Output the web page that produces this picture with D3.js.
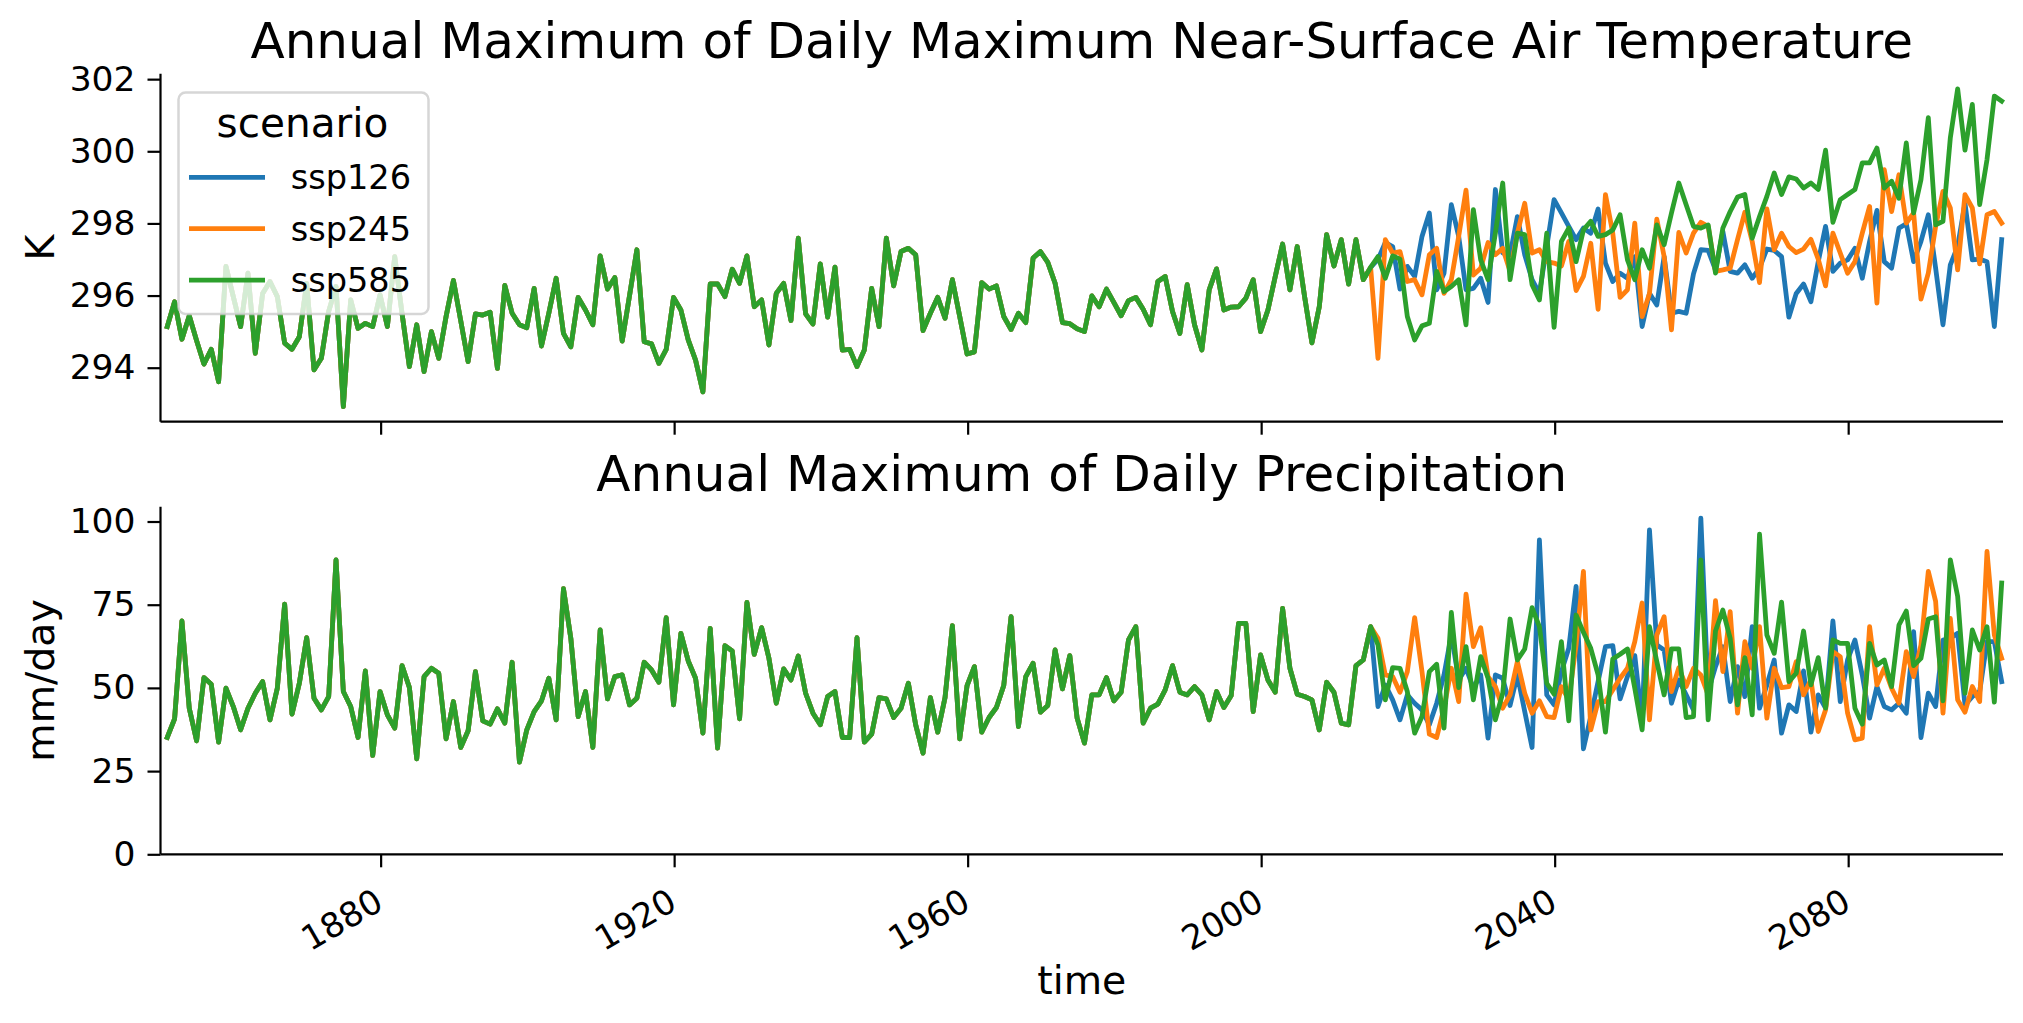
<!DOCTYPE html>
<html>
<head>
<meta charset="utf-8">
<script src="https://cdn.jsdelivr.net/npm/d3@7"></script>
<style>
  html, body { margin: 0; padding: 0; background: #ffffff; }
  svg { display: block; }
  text { font-family: "DejaVu Sans", sans-serif; fill: #000; }
</style>
</head>
<body>
<svg id="chart" width="2023" height="1023"></svg>
<script>
// ---------------- DATA ----------------
const scenarios = ["ssp126", "ssp245", "ssp585"];
const colors = ["#1f77b4", "#ff7f0e", "#2ca02c"];
const histStart = 1850;
const scenStart = 2015;
const xTickYears = [1880, 1920, 1960, 2000, 2040, 2080];
const tasTicks = [294, 296, 298, 300, 302];
const prTicks = [0, 25, 50, 75, 100];

// Annual max of daily max near-surface air temperature (K), historical 1850-2014
const histTas = [
  295.14, 295.83, 294.79, 295.44, 294.75, 294.10, 294.51, 293.61, 296.81, 295.97,
  295.14, 296.62, 294.40, 296.06, 296.39, 295.97, 294.68, 294.51, 294.86, 296.34,
  293.94, 294.26, 295.56, 296.25, 292.92, 295.88, 295.09, 295.23, 295.14, 296.02,
  295.14, 297.08, 295.50, 294.03, 295.19, 293.89, 295.00, 294.26, 295.42, 296.42,
  295.30, 294.17, 295.49, 295.46, 295.54, 293.98, 296.28, 295.51, 295.19, 295.11,
  296.20, 294.60, 295.51, 296.48, 294.95, 294.58, 295.95, 295.60, 295.19, 297.10,
  296.18, 296.50, 294.74, 296.00, 297.27, 294.72, 294.66, 294.12, 294.51, 295.95,
  295.60, 294.77, 294.21, 293.33, 296.32, 296.32, 295.97, 296.73, 296.34, 297.10,
  295.69, 295.88, 294.63, 296.06, 296.34, 295.31, 297.59, 295.49, 295.21, 296.88,
  295.40, 296.79, 294.49, 294.51, 294.03, 294.49, 296.20, 295.14, 297.59, 296.27,
  297.22, 297.31, 297.13, 295.03, 295.51, 295.95, 295.37, 296.44, 295.42, 294.38,
  294.44, 296.36, 296.18, 296.27, 295.42, 295.06, 295.51, 295.25, 297.04, 297.22,
  296.92, 296.34, 295.25, 295.22, 295.08, 295.00, 295.99, 295.69, 296.18, 295.81,
  295.44, 295.86, 295.95, 295.62, 295.19, 296.39, 296.53, 295.56, 294.95, 296.30,
  295.19, 294.49, 296.16, 296.74, 295.60, 295.68, 295.69, 295.93, 296.44, 295.00,
  295.60, 296.53, 297.43, 296.16, 297.36, 295.97, 294.69, 295.69, 297.69, 296.82,
  297.55, 296.32, 297.55, 296.44, 296.78
];
// 2015-2100
const ssp126Tas = [
  297.00, 297.47, 297.36, 296.18, 296.81,
  296.53, 297.64, 298.29, 296.16, 296.62, 298.52, 297.64, 296.16, 296.20, 296.48,
  295.81, 298.94, 297.18, 297.13, 298.19, 297.13, 296.44, 296.06, 297.36, 298.66,
  298.29, 297.92, 297.55, 297.87, 297.73, 298.40, 296.90, 296.39, 296.62, 296.48,
  297.08, 295.14, 296.06, 295.74, 297.08, 295.51, 295.56, 295.51, 296.60, 297.27,
  297.25, 296.71, 297.78, 296.67, 296.62, 296.85, 296.48, 296.76, 297.29, 297.25,
  297.08, 295.40, 296.06, 296.32, 295.83, 296.94, 297.92, 296.67, 296.90, 296.99,
  297.31, 296.48, 297.50, 298.36, 296.94, 296.76, 297.87, 297.99, 296.94, 297.50,
  298.24, 296.76, 295.19, 296.85, 297.36, 298.56, 296.99, 297.01, 296.94, 295.14,
  297.55
];
const ssp245Tas = [
  294.26, 297.55, 297.18, 297.22, 296.39,
  296.44, 296.02, 297.13, 297.31, 296.06, 296.44, 297.64, 298.92, 296.57, 296.76,
  297.47, 297.13, 297.31, 296.67, 297.73, 298.56, 297.18, 297.27, 296.94, 296.90,
  296.82, 297.50, 296.14, 296.53, 297.45, 295.62, 298.80, 297.73, 295.95, 296.16,
  298.01, 295.42, 296.06, 298.12, 297.08, 295.05, 297.75, 297.18, 297.73, 298.03,
  297.92, 296.67, 296.71, 296.76, 297.55, 298.31, 297.50, 296.36, 298.40, 297.27,
  297.73, 297.36, 297.19, 297.29, 297.56, 297.01, 296.27, 297.73, 297.18, 296.62,
  296.94, 297.73, 298.47, 295.79, 299.49, 298.33, 299.35, 298.01, 298.29, 295.90,
  296.62, 297.92, 298.89, 298.43, 296.71, 298.80, 298.43, 296.88, 298.24, 298.33,
  298.01
];
const ssp585Tas = [
  297.08, 296.48, 297.10, 297.01, 295.42,
  294.77, 295.16, 295.23, 296.67, 296.11, 296.25, 296.44, 295.19, 298.38, 296.99,
  296.44, 297.73, 299.12, 296.44, 297.73, 297.69, 296.30, 295.88, 297.73, 295.12,
  297.50, 297.87, 296.94, 297.82, 298.06, 297.64, 297.69, 297.82, 298.24, 296.99,
  296.44, 297.27, 296.76, 297.96, 297.41, 298.29, 299.12, 298.52, 297.92, 297.87,
  297.96, 296.62, 297.87, 298.33, 298.73, 298.80, 297.59, 298.19, 298.75, 299.40,
  298.80, 299.29, 299.23, 298.98, 299.12, 298.94, 300.03, 298.03, 298.66, 298.80,
  298.94, 299.68, 299.68, 300.09, 298.98, 299.17, 298.70, 300.23, 298.29, 299.21,
  300.93, 297.96, 298.06, 300.37, 301.73, 300.03, 301.30, 298.52, 299.77, 301.53,
  301.39
];

// Annual max of daily precipitation (mm/day), historical 1850-2014
const histPr = [
  35.1, 40.7, 70.1, 43.9, 34.1, 53.1, 51.1, 33.7, 49.9, 44.4,
  37.4, 43.9, 48.4, 51.9, 40.4, 49.9, 75.2, 42.1, 51.4, 65.1,
  46.9, 43.4, 47.4, 88.5, 48.9, 44.4, 35.1, 55.1, 29.7, 48.9,
  41.9, 37.9, 56.7, 50.1, 28.7, 53.4, 55.9, 54.4, 34.7, 45.9,
  32.1, 37.1, 54.9, 40.1, 39.1, 43.7, 39.4, 57.7, 27.7, 37.4,
  42.9, 46.1, 52.9, 40.4, 79.8, 64.9, 41.4, 48.9, 32.1, 67.4,
  46.7, 53.4, 53.9, 44.9, 46.9, 57.7, 55.4, 51.7, 71.1, 44.9,
  66.4, 58.1, 52.9, 36.4, 67.9, 31.9, 62.7, 61.1, 40.7, 75.7,
  60.1, 68.1, 58.9, 45.4, 55.7, 52.4, 59.6, 48.4, 42.4, 38.9,
  47.4, 48.9, 35.1, 35.1, 65.1, 33.7, 36.1, 47.1, 46.7, 41.1,
  43.9, 51.4, 38.9, 30.4, 47.1, 36.7, 47.1, 68.7, 34.7, 50.7,
  56.4, 36.7, 41.1, 44.1, 50.7, 71.4, 38.4, 53.4, 57.4, 42.7,
  44.7, 61.4, 49.7, 59.7, 40.9, 33.4, 47.9, 47.9, 53.1, 46.1,
  48.7, 64.4, 68.4, 39.4, 43.9, 45.1, 49.4, 56.7, 48.7, 47.9,
  50.4, 47.9, 40.4, 48.9, 44.1, 47.7, 69.4, 69.4, 42.9, 59.9,
  52.4, 48.7, 73.9, 55.9, 48.1, 47.4, 46.4, 37.4, 51.7, 48.7,
  39.4, 38.9, 56.7, 58.4, 68.4
];
const ssp126Pr = [
  44.4, 50.9, 46.4, 40.4, 47.9,
  45.4, 43.4, 38.9, 45.4, 53.9, 66.1, 52.4, 55.9, 49.9, 53.9,
  34.9, 53.9, 52.9, 44.7, 53.9, 42.9, 32.1, 94.5, 47.9, 44.9,
  54.9, 61.9, 80.5, 31.7, 41.4, 51.9, 62.4, 62.7, 46.7, 53.4,
  59.7, 39.9, 97.5, 62.9, 61.4, 45.4, 52.4, 47.9, 43.4, 101.0,
  48.9, 56.4, 62.4, 45.9, 56.4, 47.4, 68.4, 43.9, 50.9, 58.4,
  36.4, 44.9, 42.9, 55.1, 36.7, 47.9, 43.9, 70.1, 45.9, 58.4,
  64.4, 53.9, 40.9, 50.4, 44.4, 43.4, 45.4, 42.4, 66.9, 35.1,
  48.4, 44.4, 64.4, 64.9, 66.4, 44.9, 47.4, 48.9, 63.9, 63.9,
  51.9
];
const ssp245Pr = [
  64.9, 53.9, 53.4, 48.7, 54.9,
  71.1, 54.9, 36.1, 35.1, 43.9, 55.9, 45.9, 78.2, 62.4, 68.1,
  53.4, 50.4, 43.9, 47.9, 57.9, 48.4, 42.4, 46.1, 41.4, 41.1,
  50.4, 46.4, 62.9, 85.0, 37.4, 45.9, 45.9, 49.4, 52.9, 55.9,
  63.9, 75.5, 40.4, 65.9, 71.4, 48.9, 56.1, 50.4, 55.9, 53.9,
  47.9, 76.2, 54.9, 72.9, 42.4, 63.9, 55.9, 68.4, 40.9, 55.9,
  50.1, 50.4, 57.9, 47.9, 52.4, 36.9, 43.4, 60.9, 59.4, 42.4,
  34.4, 34.9, 68.4, 50.9, 55.9, 49.9, 45.4, 60.9, 53.4, 62.9,
  85.0, 76.0, 42.4, 70.9, 46.4, 42.7, 50.4, 45.9, 91.0, 65.9,
  58.9
];
const ssp585Pr = [
  62.9, 46.4, 56.1, 55.9, 48.9,
  36.4, 41.4, 54.9, 57.1, 37.9, 72.7, 50.1, 62.4, 46.4, 59.4,
  52.9, 40.4, 48.4, 70.7, 58.4, 61.7, 74.1, 68.4, 51.4, 48.1,
  63.9, 40.1, 71.9, 66.7, 61.9, 53.9, 36.7, 58.7, 60.1, 61.7,
  49.9, 37.4, 68.4, 57.9, 47.9, 61.7, 61.7, 41.1, 41.4, 88.5,
  40.4, 67.1, 73.4, 64.9, 44.9, 59.1, 41.9, 96.2, 65.9, 60.4,
  75.8, 51.9, 54.4, 67.1, 50.9, 59.1, 43.9, 64.4, 63.4, 63.4,
  43.9, 39.1, 63.4, 56.9, 58.4, 50.4, 68.9, 73.1, 56.7, 58.9,
  70.7, 71.4, 46.1, 88.5, 77.5, 48.4, 67.4, 61.4, 68.4, 45.7,
  81.5
];

// ---------------- BUILD SERIES ----------------
// each scenario line = historical run + scenario run (points at end of each year)
function buildSeries(hist, scen) {
  const pts = hist.map((v, i) => ({ t: histStart + i + 0.92, v }));
  scen.forEach((v, i) => pts.push({ t: scenStart + i + 0.92, v }));
  return pts;
}
const tasSeries = [ssp126Tas, ssp245Tas, ssp585Tas].map(s => buildSeries(histTas, s));
const prSeries = [ssp126Pr, ssp245Pr, ssp585Pr].map(s => buildSeries(histPr, s));

// ---------------- LAYOUT ----------------
const svg = d3.select("#chart");
const left = 160.5, right = 2003;
const x = d3.scaleLinear().domain([1850, 2101.1]).range([left, right]);

const panels = [
  {
    title: "Annual Maximum of Daily Maximum Near-Surface Air Temperature",
    ylabel: "K", series: tasSeries, ticks: tasTicks,
    y: d3.scaleLinear().domain([292.503, 302.151]).range([421.7, 73.7]),
    top: 73.7, bottom: 421.7, showX: false
  },
  {
    title: "Annual Maximum of Daily Precipitation",
    ylabel: "mm/day", series: prSeries, ticks: prTicks,
    y: d3.scaleLinear().domain([0, 104.45]).range([854.3, 506.7]),
    top: 506.7, bottom: 854.3, showX: true
  }
];

const lineW = 4.8;

panels.forEach((p, pi) => {
  const g = svg.append("g");
  const line = d3.line().x(d => x(d.t)).y(d => p.y(d.v)).curve(d3.curveLinear);

  p.series.forEach((s, i) => {
    g.append("path")
      .datum(s)
      .attr("d", line)
      .attr("fill", "none")
      .attr("stroke", colors[i])
      .attr("stroke-width", lineW)
      .attr("stroke-linejoin", "round")
      .attr("stroke-linecap", "square");
  });

  // y axis
  const ya = g.append("g")
    .attr("transform", `translate(${left},0)`)
    .call(d3.axisLeft(p.y).tickValues(p.ticks).tickSize(13).tickPadding(12).tickFormat(d3.format("d")));
  ya.select(".domain").attr("stroke-width", 2.2).attr("d", `M0,${p.top}V${p.bottom}`);
  ya.selectAll(".tick line").attr("stroke-width", 2.2);
  ya.selectAll(".tick text").attr("font-size", 34.5).attr("font-family", "DejaVu Sans");

  // x axis
  const xa = g.append("g")
    .attr("transform", `translate(0,${p.bottom})`)
    .call(d3.axisBottom(x).tickValues(xTickYears).tickSize(13).tickFormat(p.showX ? d3.format("d") : () => ""));
  xa.select(".domain").attr("stroke-width", 2.2).attr("d", `M${left},0H${right}`);
  xa.selectAll(".tick line").attr("stroke-width", 2.2);
  if (p.showX) {
    xa.selectAll(".tick text")
      .attr("font-size", 34).attr("font-family", "DejaVu Sans")
      .attr("x", 0).attr("y", 0).attr("dy", 0)
      .attr("text-anchor", "end")
      .attr("transform", "translate(4,54) rotate(-30)");
  }

  // title
  svg.append("text")
    .attr("x", (left + right) / 2)
    .attr("y", p.top - 15.4)
    .attr("text-anchor", "middle")
    .attr("font-size", 50)
    .text(p.title);

  // y label
  svg.append("text")
    .attr("transform", `translate(53.6,${(p.top + p.bottom) / 2}) rotate(-90)`)
    .attr("text-anchor", "middle")
    .attr("font-size", 39.4)
    .text(p.ylabel);
});

// x label
svg.append("text")
  .attr("x", (left + right) / 2)
  .attr("y", 994)
  .attr("text-anchor", "middle")
  .attr("font-size", 39.4)
  .text("time");

// ---------------- LEGEND ----------------
const lg = svg.append("g");
lg.append("rect")
  .attr("x", 178.5).attr("y", 92.5)
  .attr("width", 250).attr("height", 221.5)
  .attr("rx", 7).attr("ry", 7)
  .attr("fill", "#ffffff").attr("fill-opacity", 0.8)
  .attr("stroke", "#cccccc").attr("stroke-opacity", 0.8).attr("stroke-width", 2.5);
lg.append("text")
  .attr("x", 302.5).attr("y", 137.3)
  .attr("text-anchor", "middle")
  .attr("font-size", 40.6)
  .text("scenario");
scenarios.forEach((name, i) => {
  const cy = 177.3 + i * 51.4;
  lg.append("line")
    .attr("x1", 189).attr("x2", 265)
    .attr("y1", cy).attr("y2", cy)
    .attr("stroke", colors[i]).attr("stroke-width", lineW);
  lg.append("text")
    .attr("x", 290.7).attr("y", cy + 12)
    .attr("font-size", 33.6)
    .text(name);
});
</script>
</body>
</html>
